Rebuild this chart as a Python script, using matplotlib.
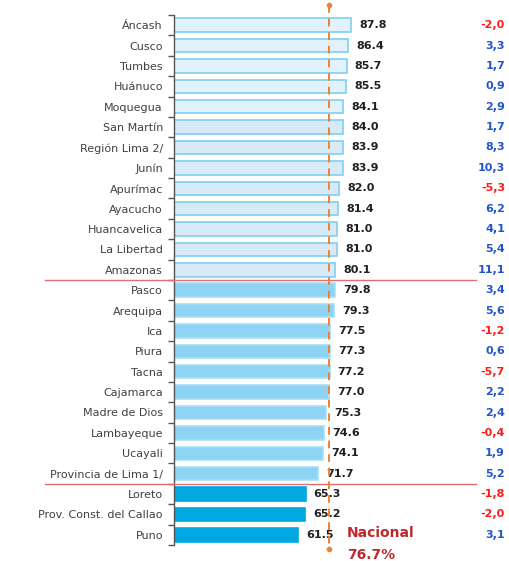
import numpy as np
import matplotlib.pyplot as plt

regiones = ['Áncash', 'Cusco', 'Tumbes', 'Huánuco', 'Moquegua', 'San Martín',
            'Región Lima 2/', 'Junín', 'Apurímac', 'Ayacucho', 'Huancavelica',
            'La Libertad', 'Amazonas', 'Pasco', 'Arequipa', 'Ica', 'Piura',
            'Tacna', 'Cajamarca', 'Madre de Dios', 'Lambayeque', 'Ucayali',
            'Provincia de Lima 1/', 'Loreto', 'Prov. Const. del Callao', 'Puno']
valores = [87.8, 86.4, 85.7, 85.5, 84.1, 84.0, 83.9, 83.9, 82.0, 81.4, 81.0,
           81.0, 80.1, 79.8, 79.3, 77.5, 77.3, 77.2, 77.0, 75.3, 74.6, 74.1,
           71.7, 65.3, 65.2, 61.5]
variacion = [-2.0, 3.3, 1.7, 0.9, 2.9, 1.7, 8.3, 10.3, -5.3, 6.2, 4.1, 5.4,
             11.1, 3.4, 5.6, -1.2, 0.6, -5.7, 2.2, 2.4, -0.4, 1.9, 5.2, -1.8,
             -2.0, 3.1]
nacional = 76.7
grupos = [13, 10, 3]  # alto, medio, bajo

n = len(regiones)
y = np.arange(n)

fig = plt.figure(figsize=(5.1, 5.61), dpi=100)
x0, x1 = 174, 505
px_unit = 2.015
ax = fig.add_axes([x0 / 510, 1 - 545 / 561, (x1 - x0) / 510, (545 - 15) / 561])

fills, edges = [], []
for i in range(n):
    if i < 5:
        fills.append('#e2f2fd'); edges.append('#7fd0f2')
    elif i < grupos[0]:
        fills.append('#d8e9f8'); edges.append('#7fd0f2')
    elif i < grupos[0] + grupos[1]:
        fills.append('#8dd3f4'); edges.append('#a9def6')
    else:
        fills.append('#00a8e2'); edges.append('#00a8e2')

ax.barh(y, valores, height=0.66, color=fills, edgecolor=edges, linewidth=1.2, zorder=2)

ax.set_ylim(n - 0.5, -0.5)
ax.set_xlim(0, (x1 - x0) / px_unit)

for s in ['top', 'right', 'bottom']:
    ax.spines[s].set_visible(False)
ax.spines['left'].set_color('#555555')
ax.spines['left'].set_linewidth(1.0)
ax.set_xticks([])
ax.set_yticks(y)
ax.set_yticklabels(regiones, fontsize=8, color='#404040')
ax.tick_params(axis='y', which='major', length=0, pad=8)
ax.set_yticks(np.arange(-0.5, n, 1), minor=True)
ax.tick_params(axis='y', which='minor', length=4, width=1, color='#555555')

for i, v in enumerate(valores):
    ax.text(v + 4, i, f'{v:.1f}', va='center', ha='left', fontsize=8,
            fontweight='bold', color='#202020', zorder=1)

xmax = (x1 - x0) / px_unit
for i, d in enumerate(variacion):
    col = '#ff1a1a' if d < 0 else '#2255cc'
    ax.text(xmax, i, f'{d:.1f}'.replace('.', ','), va='center', ha='right',
            fontsize=8, fontweight='bold', color=col)

# lineas separadoras
for b in [grupos[0] - 0.5, grupos[0] + grupos[1] - 0.5]:
    ax.plot([-64, 150], [b, b], color='#e07070', lw=1.0, clip_on=False, zorder=3)

# promedio nacional
ax.plot([nacional, nacional], [-1.0, n - 0.5 + 0.2], color='#f08030', lw=1.4,
        ls=(0, (4, 3)), clip_on=False, zorder=4)
ax.plot([nacional, nacional], [-1.0, n - 0.5 + 0.2], 'o', color='#f08030', ms=3,
        clip_on=False, zorder=4)
ax.text(nacional + 9, n - 1.45, 'Nacional\n76.7%', ha='left', va='top', fontsize=10,
        fontweight='bold', color='#c0272d', linespacing=1.75)

fig.savefig('out.png', dpi=100)
